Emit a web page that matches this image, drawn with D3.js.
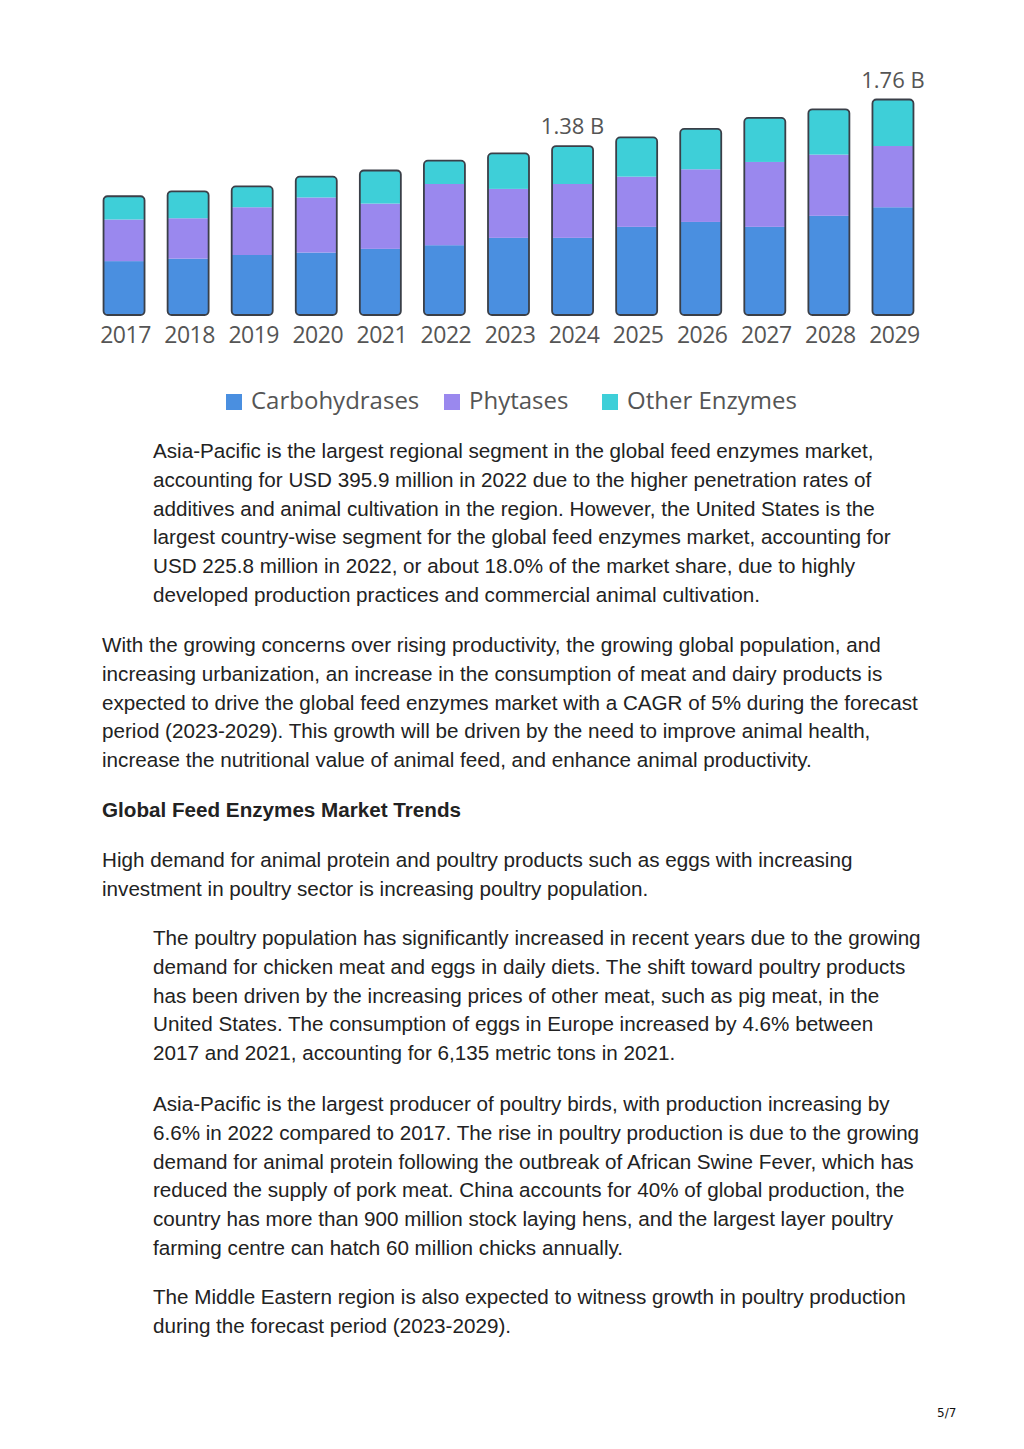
<!DOCTYPE html>
<html lang="en">

<head>
  <meta charset="UTF-8">
  <script src="https://d3js.org/d3.v7.min.js"></script>
  <style>
    body { margin: 0; background: #fff; }
    #page { position: relative; width: 1024px; height: 1449px; }
    #chart-svg { position: absolute; left: 0; top: 0; }
    .para {
      position: absolute;
      font-family: "Liberation Sans", Arial, sans-serif;
      font-size: 20.65px;
      line-height: 28.8px;
      color: #222;
      white-space: nowrap;
    }
    .bold { font-weight: bold; }
    #footer {
      position: absolute; left: 937px; top: 1406px;
      font-family: "DejaVu Sans", sans-serif; font-size: 12px; color: #111;
    }
  </style>
</head>

<body>
  <div id="page">
    <svg id="chart-svg" width="1024" height="430"></svg>

    <div class="para" style="left:153px; top:437px;">
      Asia-Pacific is the largest regional segment in the global feed enzymes market,<br>
      accounting for USD 395.9 million in 2022 due to the higher penetration rates of<br>
      additives and animal cultivation in the region. However, the United States is the<br>
      largest country-wise segment for the global feed enzymes market, accounting for<br>
      USD 225.8 million in 2022, or about 18.0% of the market share, due to highly<br>
      developed production practices and commercial animal cultivation.
    </div>

    <div class="para" style="left:102px; top:631px;">
      With the growing concerns over rising productivity, the growing global population, and<br>
      increasing urbanization, an increase in the consumption of meat and dairy products is<br>
      expected to drive the global feed enzymes market with a CAGR of 5% during the forecast<br>
      period (2023-2029). This growth will be driven by the need to improve animal health,<br>
      increase the nutritional value of animal feed, and enhance animal productivity.
    </div>

    <div class="para bold" style="left:102px; top:796px;">
      Global Feed Enzymes Market Trends
    </div>

    <div class="para" style="left:102px; top:846px;">
      High demand for animal protein and poultry products such as eggs with increasing<br>
      investment in poultry sector is increasing poultry population.
    </div>

    <div class="para" style="left:153px; top:924px;">
      The poultry population has significantly increased in recent years due to the growing<br>
      demand for chicken meat and eggs in daily diets. The shift toward poultry products<br>
      has been driven by the increasing prices of other meat, such as pig meat, in the<br>
      United States. The consumption of eggs in Europe increased by 4.6% between<br>
      2017 and 2021, accounting for 6,135 metric tons in 2021.
    </div>

    <div class="para" style="left:153px; top:1090px;">
      Asia-Pacific is the largest producer of poultry birds, with production increasing by<br>
      6.6% in 2022 compared to 2017. The rise in poultry production is due to the growing<br>
      demand for animal protein following the outbreak of African Swine Fever, which has<br>
      reduced the supply of pork meat. China accounts for 40% of global production, the<br>
      country has more than 900 million stock laying hens, and the largest layer poultry<br>
      farming centre can hatch 60 million chicks annually.
    </div>

    <div class="para" style="left:153px; top:1283px;">
      The Middle Eastern region is also expected to witness growth in poultry production<br>
      during the forecast period (2023-2029).
    </div>

    <div id="footer">5/7</div>
  </div>

  <script>
    // chart data (USD billion)
    const years = ["2017", "2018", "2019", "2020", "2021", "2022", "2023", "2024", "2025", "2026", "2027", "2028", "2029"];
    const carbohydrases = [0.44, 0.46, 0.49, 0.51, 0.54, 0.57, 0.63, 0.63, 0.72, 0.76, 0.72, 0.81, 0.88];
    const phytases = [0.34, 0.33, 0.39, 0.45, 0.37, 0.50, 0.40, 0.44, 0.41, 0.43, 0.53, 0.50, 0.50];
    const otherEnzymes = [0.19, 0.22, 0.17, 0.17, 0.27, 0.19, 0.29, 0.31, 0.32, 0.33, 0.36, 0.37, 0.38];
    const seriesNames = ["Carbohydrases", "Phytases", "Other Enzymes"];
    const seriesColors = ["#4a8fe0", "#9a88ee", "#3ecfd8"];
    const labelledYears = ["2024", "2029"];

    const svg = d3.select("#chart-svg");

    const rows = years.map((y, i) => ({
      year: y,
      "Carbohydrases": carbohydrases[i],
      "Phytases": phytases[i],
      "Other Enzymes": otherEnzymes[i]
    }));
    rows.forEach(r => r.total = seriesNames.reduce((s, k) => s + r[k], 0));

    const stack = d3.stack().keys(seriesNames)(rows);

    const x = d3.scaleBand()
      .domain(years)
      .range([92, 925])
      .paddingInner(0.36)
      .paddingOuter(0.18);

    const y = d3.scaleLinear()
      .domain([0, d3.max(rows, d => d.total)])
      .range([315, 99.5]);

    const color = d3.scaleOrdinal().domain(seriesNames).range(seriesColors);

    // clip each bar so segments follow the rounded outline
    const defs = svg.append("defs");
    defs.selectAll("clipPath").data(rows)
      .join("clipPath")
      .attr("id", (d, i) => "clip-" + i)
      .append("rect")
      .attr("x", d => x(d.year))
      .attr("y", d => y(d.total))
      .attr("width", x.bandwidth())
      .attr("height", d => y(0) - y(d.total))
      .attr("rx", 4);

    const bars = svg.append("g");
    rows.forEach((r, i) => {
      const g = bars.append("g").attr("clip-path", "url(#clip-" + i + ")");
      stack.forEach(s => {
        const d = s[i];
        g.append("rect")
          .attr("x", x(r.year))
          .attr("y", y(d[1]))
          .attr("width", x.bandwidth())
          .attr("height", y(d[0]) - y(d[1]))
          .attr("fill", color(s.key));
      });
    });

    // outlines
    svg.append("g").selectAll("rect").data(rows)
      .join("rect")
      .attr("x", d => x(d.year))
      .attr("y", d => y(d.total))
      .attr("width", x.bandwidth())
      .attr("height", d => y(0) - y(d.total))
      .attr("rx", 4)
      .attr("fill", "none")
      .attr("stroke", "#3a3f48")
      .attr("stroke-width", 1.8);

    // x labels
    svg.append("g").selectAll("text").data(years)
      .join("text")
      .attr("x", d => x(d) + x.bandwidth() / 2 + 1.5)
      .attr("y", 343)
      .attr("text-anchor", "middle")
      .attr("font-family", "Open Sans, sans-serif")
      .attr("font-size", 23)
      .attr("letter-spacing", -0.5)
      .attr("fill", "#555")
      .text(d => d);

    // total labels
    const fmt = d3.format(".2f");
    svg.append("g").selectAll("text").data(rows.filter(r => labelledYears.includes(r.year)))
      .join("text")
      .attr("x", d => x(d.year) + x.bandwidth() / 2)
      .attr("y", d => y(d.total) - 12)
      .attr("text-anchor", "middle")
      .attr("font-family", "Open Sans, sans-serif")
      .attr("font-size", 22)
      .attr("fill", "#555")
      .text(d => fmt(d.total) + " B");

    // legend
    const legendX = [226, 444, 602];
    const legend = svg.append("g").selectAll("g").data(seriesNames)
      .join("g")
      .attr("transform", (d, i) => "translate(" + legendX[i] + ", 394)");
    legend.append("rect")
      .attr("width", 16).attr("height", 16)
      .attr("fill", d => color(d));
    legend.append("text")
      .attr("x", 25).attr("y", 15)
      .attr("font-family", "Open Sans, sans-serif")
      .attr("font-size", 24)
      .attr("fill", "#555")
      .text(d => d);
  </script>
</body>

</html>
